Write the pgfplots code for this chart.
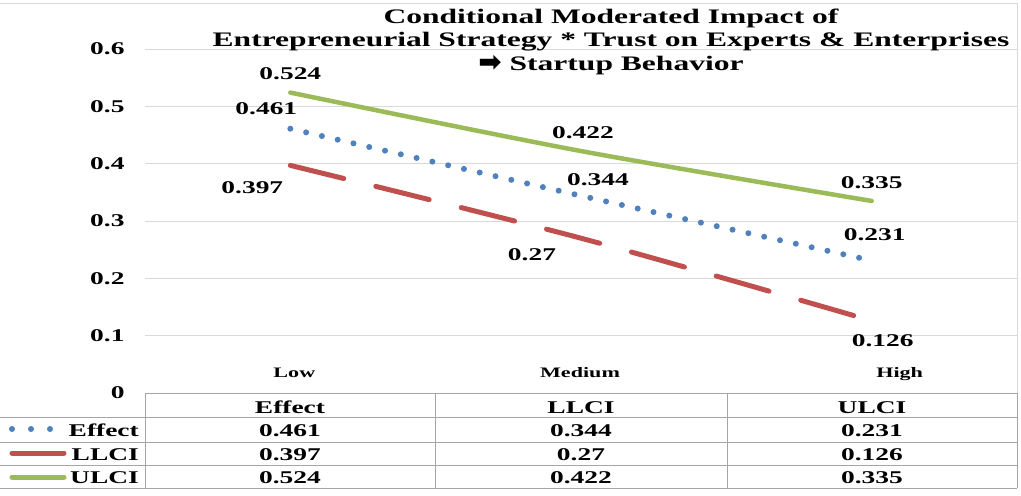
\documentclass[border=0pt]{standalone}
\usepackage{pgfplots}
\pgfplotsset{compat=1.18}
\usepackage{fontspec}
\setmainfont{Liberation Serif}[FakeStretch=1.53]
\newfontfamily\arrowfont{DejaVu Sans}
\definecolor{cblue}{HTML}{4F81BD}
\definecolor{cred}{HTML}{C0504D}
\definecolor{cgreen}{HTML}{9BBB59}
\definecolor{gridgray}{HTML}{D9D9D9}
\definecolor{tabgray}{HTML}{A6A6A6}
\newcommand\labfont{\fontsize{18}{20}\selectfont\bfseries}
\newcommand\catfont{\fontsize{14.5}{16}\selectfont\bfseries}
\newcommand\titfont{\fontsize{20.7}{22}\selectfont\bfseries}
\begin{document}
\begin{tikzpicture}
\path[use as bounding box] (0,0) rectangle (1021bp,-496bp);
\begin{axis}[
  at={(145bp,-393bp)}, anchor=south west,
  scale only axis, width=872bp, height=344bp,
  xmin=-0.5, xmax=2.5, ymin=0, ymax=0.6,
  xtick=\empty,
  ytick={0,0.1,0.2,0.3,0.4,0.5,0.6},
  yticklabel style={font=\labfont, xshift=-17bp,
    /pgf/number format/assume math mode=true,
    /pgf/number format/fixed, /pgf/number format/precision=1},
  ymajorgrids, grid style={draw=gridgray, line width=1bp},
  axis line style={draw=none},
  major tick length=0pt, tick style={draw=none},
  clip=false,
]
\addplot[cred, line width=5bp, line cap=round, dash pattern=on 55bp off 33bp, smooth, tension=0.5]
  coordinates {(0,0.397) (1,0.27) (2,0.126)};
\addplot[cblue, line width=6bp, line cap=round, dash pattern=on 0bp off 16.2bp, smooth, tension=0.5]
  coordinates {(0,0.461) (1,0.344) (2,0.231)};
\addplot[cgreen, line width=4.5bp, line cap=round, smooth, tension=0.5]
  coordinates {(0,0.524) (1,0.422) (2,0.335)};
% data labels
\node[font=\labfont] at (axis cs:0,0.524) [yshift=19bp] {0.524};
\node[font=\labfont] at (axis cs:0,0.461) [xshift=-24bp, yshift=20bp] {0.461};
\node[font=\labfont] at (axis cs:0,0.397) [xshift=-38bp, yshift=-22.5bp] {0.397};
\node[font=\labfont] at (axis cs:1,0.422) [xshift=2bp, yshift=18bp] {0.422};
\node[font=\labfont] at (axis cs:1,0.344) [xshift=17bp, yshift=16bp] {0.344};
\node[font=\labfont] at (axis cs:1,0.27) [xshift=-49bp, yshift=-16bp] {0.27};
\node[font=\labfont] at (axis cs:2,0.335) [xshift=0bp, yshift=18bp] {0.335};
\node[font=\labfont] at (axis cs:2,0.231) [xshift=3bp, yshift=26bp] {0.231};
\node[font=\labfont] at (axis cs:2,0.126) [xshift=11bp, yshift=-20bp] {0.126};
% category labels
\node[font=\catfont, anchor=base] at (axis cs:0,0) [xshift=4bp, yshift=16bp] {Low};
\node[font=\catfont, anchor=base] at (axis cs:1,0) [xshift=-1bp, yshift=16bp] {Medium};
\node[font=\catfont, anchor=base] at (axis cs:2,0) [xshift=28bp, yshift=16bp] {High};
\end{axis}
\begin{scope}[x=1bp, y=-1bp]
% frame
\draw[gridgray, line width=1bp] (0,3) -- (1017,3) -- (1017,393);
% table
\draw[tabgray, line width=1bp] (145,393) -- (1017,393);
\foreach \yy in {417,442,465,488} \draw[tabgray, line width=1bp] (0,\yy) -- (1017,\yy);
\foreach \xx in {145,435,727,1017} \draw[tabgray, line width=1bp] (\xx,393) -- (\xx,488);
% title
\node[font=\titfont, anchor=base] at (611,23) {Conditional Moderated Impact of};
\node[font=\titfont, anchor=base] at (611,46) {Entrepreneurial Strategy * Trust on Experts \& Enterprises};
\node[font=\titfont, anchor=base] at (611,70) {\raisebox{-1.5bp}{\arrowfont\fontsize{28}{28}\selectfont ➡} Startup Behavior};
% header row
\node[font=\labfont, anchor=base] at (290,413) {Effect};
\node[font=\labfont, anchor=base] at (581,413) {LLCI};
\node[font=\labfont, anchor=base] at (872,413) {ULCI};
% rows
\node[font=\labfont, anchor=base] at (290,436) {0.461};
\node[font=\labfont, anchor=base] at (581,436) {0.344};
\node[font=\labfont, anchor=base] at (872,436) {0.231};
\node[font=\labfont, anchor=base] at (290,460) {0.397};
\node[font=\labfont, anchor=base] at (581,460) {0.27};
\node[font=\labfont, anchor=base] at (872,460) {0.126};
\node[font=\labfont, anchor=base] at (290,483) {0.524};
\node[font=\labfont, anchor=base] at (581,483) {0.422};
\node[font=\labfont, anchor=base] at (872,483) {0.335};
% legend keys
\draw[cblue, line width=6bp, line cap=round, dash pattern=on 0bp off 19bp] (12,429) -- (51,429);
\draw[cred, line width=5bp, line cap=round] (12,453) -- (64,453);
\draw[cgreen, line width=5bp, line cap=round] (12,477) -- (64,477);
\node[font=\labfont, anchor=base east, inner sep=0pt] at (139,436) {Effect};
\node[font=\labfont, anchor=base east, inner sep=0pt] at (139,460) {LLCI};
\node[font=\labfont, anchor=base east, inner sep=0pt] at (139,483) {ULCI};
\end{scope}
\end{tikzpicture}
\end{document}
